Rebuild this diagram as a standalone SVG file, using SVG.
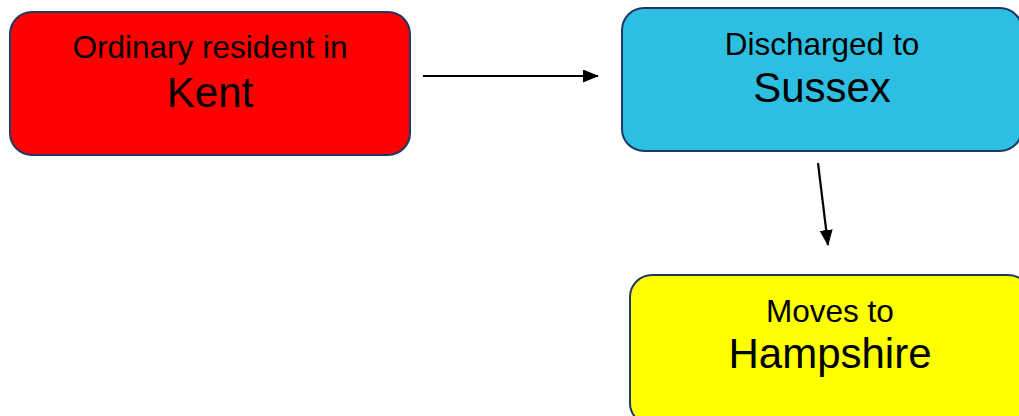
<svg xmlns="http://www.w3.org/2000/svg" width="1019" height="416" viewBox="0 0 1019 416">
<style>
.box{stroke:#1F3864;stroke-width:2}
.t{font-family:"Liberation Sans",Arial,sans-serif;fill:#000;text-anchor:middle}
.s{font-size:31.5px}
.l{font-size:42px}
.c{stroke:#000;stroke-width:2.2;fill:none}
</style>
<defs>
<marker id="ah" viewBox="0 0 16 13" refX="15" refY="6.5" markerWidth="16" markerHeight="13" markerUnits="userSpaceOnUse" orient="auto">
<path d="M0,0 L16,6.5 L0,13 Z" fill="#000"/>
</marker>
</defs>
<rect width="1019" height="416" fill="#fff"/>
<g id="kent">
<rect class="box" x="10" y="12" width="400" height="143" rx="22" fill="#FF0000"/>
<text class="t s" x="210" y="58">Ordinary resident in</text>
<text class="t l" x="210" y="107">Kent</text>
</g>
<g id="sussex">
<rect class="box" x="622" y="8" width="400" height="143" rx="22" fill="#2DBFE1"/>
<text class="t s" x="822" y="55">Discharged to</text>
<text class="t l" x="822" y="102">Sussex</text>
</g>
<g id="hampshire">
<rect class="box" x="630" y="275" width="400" height="150" rx="22" fill="#FFFF00"/>
<text class="t s" x="830" y="322">Moves to</text>
<text class="t l" x="830" y="368">Hampshire</text>
</g>
<g id="connectors">
<line class="c" x1="423" y1="76" x2="598" y2="76" marker-end="url(#ah)"/>
<line class="c" x1="818" y1="163" x2="828" y2="245" marker-end="url(#ah)"/>
</g>
</svg>
